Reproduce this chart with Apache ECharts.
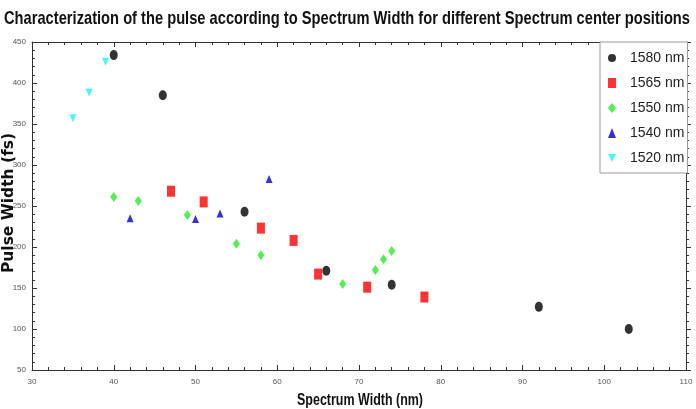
<!DOCTYPE html>
<html><head><meta charset="utf-8">
<script src="https://cdn.jsdelivr.net/npm/echarts@6/dist/echarts.min.js"></script>
<style>html,body{margin:0;padding:0;background:#fff}#c{width:696px;height:409px}</style>
</head><body><div id="c"></div>
<script>
var seriesNames = ['1580 nm', '1565 nm', '1550 nm', '1540 nm', '1520 nm'];
var s1580 = [[40,434],[46,385],[56,243],[66,171],[74,154],[92,127],[103,100]];
var s1565 = [[47,268],[51,255],[58,223],[62,208],[65,167],[71,151],[78,139]];
var s1550 = [[40,261],[43,256],[49,239],[55,204],[58,190],[68,155],[72,172],[73,185],[74,195]];
var s1540 = [[42,235],[50,234],[53,241],[59,283]];
var s1520 = [[35,357],[37,388],[39,426]];
var xTicks = [30,40,50,60,70,80,90,100,110];
var yTicks = [50,100,150,200,250,300,350,400,450];
var titleText = 'Characterization of the pulse according to Spectrum Width for different Spectrum center positions';
var xName = 'Spectrum Width (nm)';
var yName = 'Pulse Width (fs)';

var SANS = '"Liberation Sans",Arial,sans-serif';
function measure(text, font){
  var c = document.createElement('canvas').getContext('2d');
  c.font = font; return c.measureText(text).width;
}
var titleFont = 'bold 19px "Liberation Sans"';
var titleScale = 686 / measure(titleText, titleFont);
var xnFont = 'bold 16px "Liberation Sans"';
var xnScale = 126 / measure(xName, xnFont);
var ynFont = 'bold 15px "DejaVu Sans"';
var ynScale = 140 / measure(yName, ynFont);

var chart = echarts.init(document.getElementById('c'));
function axisCommon(){
  return {
    axisLine:{show:true,lineStyle:{color:'#333',width:1}},
    axisTick:{show:true,inside:true,length:5,lineStyle:{color:'#333'}},
    minorTick:{show:true,splitNumber:5,length:3,lineStyle:{color:'#333'}},
    splitLine:{show:false}
  };
}
var xBase = Object.assign(axisCommon(), {type:'value',min:xTicks[0],max:xTicks[xTicks.length-1],interval:10});
var yBase = Object.assign(axisCommon(), {type:'value',min:yTicks[0],max:yTicks[yTicks.length-1],interval:50});
var labelStyle = {fontFamily:SANS,fontSize:8,color:'#555'};
var option = {
  backgroundColor:'#fff',
  graphic:[
    {type:'text',x:347,y:19,scaleX:titleScale,silent:true,
     style:{text:titleText,font:titleFont,fill:'#111',align:'center',verticalAlign:'middle'}},
    {type:'text',x:360,y:401,scaleX:xnScale,silent:true,
     style:{text:xName,font:xnFont,fill:'#111',align:'center',verticalAlign:'middle'}},
    {type:'text',x:9,y:203,rotation:Math.PI/2,scaleX:ynScale,silent:true,
     style:{text:yName,font:ynFont,fill:'#111',align:'center',verticalAlign:'middle'}}
  ],
  grid:{left:32,right:10,top:42,bottom:39,containLabel:false,outerBoundsMode:'none'},
  xAxis:[
    Object.assign({}, xBase, {position:'bottom',
      axisLabel:Object.assign({margin:8},labelStyle)}),
    Object.assign({}, xBase, {position:'top',axisLabel:{show:false}})
  ],
  yAxis:[
    Object.assign({}, yBase, {position:'left',
      axisLabel:Object.assign({margin:6},labelStyle)}),
    Object.assign({}, yBase, {position:'right',axisLabel:{show:false},
      axisTick:{show:true,inside:false,length:5,lineStyle:{color:'#333'}},
      minorTick:{show:true,splitNumber:5,length:3,lineStyle:{color:'#333'}}})
  ],
  legend:{
    orient:'vertical',left:600,top:42,
    backgroundColor:'#fff',borderColor:'#999',borderWidth:1,
    padding:[9,3,8,8],itemGap:11,itemWidth:8,itemHeight:10,
    textStyle:{fontFamily:SANS,fontSize:14,color:'#222',padding:[0,0,0,9]},
    data:[
      {name:seriesNames[0]},{name:seriesNames[1]},{name:seriesNames[2]},{name:seriesNames[3]},
      {name:seriesNames[4],icon:'path://M0,0 L10,0 L5,10 Z'}
    ]
  },
  series:[
    {name:seriesNames[0],type:'scatter',data:s1580,symbol:'circle',symbolSize:[8,10],itemStyle:{color:'#000'}},
    {name:seriesNames[1],type:'scatter',data:s1565,symbol:'rect',symbolSize:[8,11],itemStyle:{color:'#f00'}},
    {name:seriesNames[2],type:'scatter',data:s1550,symbol:'diamond',symbolSize:[7,10],itemStyle:{color:'#22ee22'}},
    {name:seriesNames[3],type:'scatter',data:s1540,symbol:'triangle',symbolSize:[7,8],itemStyle:{color:'#0000cc'}},
    {name:seriesNames[4],type:'scatter',data:s1520,symbol:'triangle',symbolRotate:180,symbolSize:[7,8],itemStyle:{color:'#22eeff'}}
  ]
};
chart.setOption(option);
</script></body></html>
